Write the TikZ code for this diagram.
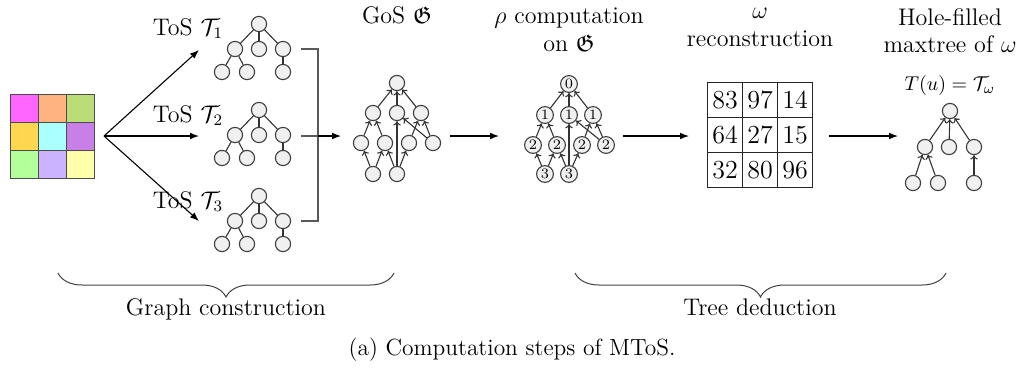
\documentclass[tikz,border=0pt]{standalone}
\usepackage{amssymb}
\usetikzlibrary{arrows.meta,decorations.pathreplacing}
\begin{document}
\begin{tikzpicture}[x=0.5pt,y=-0.5pt,
  vtx/.style={circle,draw=black!75,fill=black!6,line width=0.55pt,minimum size=7.6pt,inner sep=0pt},
  rvtx/.style={vtx,minimum size=8.4pt,font=\fontsize{7.2}{8}\selectfont},
  tedge/.style={draw=black!80,line width=0.55pt},
  gedge/.style={tedge,-{To[length=2.2pt,width=3.8pt]}},
  flow/.style={-{Latex[length=4.5pt,width=3.4pt]},line width=0.55pt},
  txt/.style={font=\fontsize{12}{14}\selectfont,anchor=base,inner sep=0pt},
  cell/.style={draw=black!70,line width=0.5pt,minimum size=14pt,inner sep=0pt},
  wcell/.style={draw=black!85,line width=0.6pt,minimum size=17.5pt,inner sep=0pt,font=\fontsize{13}{14}\selectfont},
  bracketline/.style={draw=black!65,line width=0.6pt},
  brace/.style={draw=black!75,line width=0.5pt,decorate,decoration={brace,mirror,amplitude=12pt}}
]
\useasboundingbox (0,0) rectangle (1025,376);

% input image
\definecolor{cA}{HTML}{FF66FF}\definecolor{cB}{HTML}{FFB380}\definecolor{cC}{HTML}{BBDD77}
\definecolor{cD}{HTML}{FFD650}\definecolor{cE}{HTML}{AAFFFF}\definecolor{cF}{HTML}{C880E8}
\definecolor{cG}{HTML}{B3FF99}\definecolor{cH}{HTML}{CCB3FF}\definecolor{cI}{HTML}{FFFFAA}
\node[cell,fill=cA] (p11) at (24,108) {};
\node[cell,fill=cB] (p12) at (52,108) {};
\node[cell,fill=cC] (p13) at (80,108) {};
\node[cell,fill=cD] (p21) at (24,136) {};
\node[cell,fill=cE] (p22) at (52,136) {};
\node[cell,fill=cF] (p23) at (80,136) {};
\node[cell,fill=cG] (p31) at (24,164) {};
\node[cell,fill=cH] (p32) at (52,164) {};
\node[cell,fill=cI] (p33) at (80,164) {};

% fan-out to the three trees of shapes
\coordinate (src) at (104,136);
\coordinate (e1) at (199,50);
\coordinate (e2) at (199,136);
\coordinate (e3) at (199,221);
\draw[flow] (src) -- (e1);
\draw[flow] (src) -- (e2);
\draw[flow] (src) -- (e3);

\node[txt] (l1) at (188,35) {ToS $\mathcal{T}_1$};
\node[txt] (l2) at (188,122) {ToS $\mathcal{T}_2$};
\node[txt] (l3) at (188,208) {ToS $\mathcal{T}_3$};

% trees of shapes
\foreach \i/\y in {1/24,2/110,3/196} {
  \node[vtx] (t\i r) at (259,\y) {};
  \node[vtx] (t\i a) at (235,{\y+25}) {};
  \node[vtx] (t\i b) at (259,{\y+25}) {};
  \node[vtx] (t\i c) at (283,{\y+25}) {};
  \node[vtx] (t\i d) at (222,{\y+48}) {};
  \node[vtx] (t\i e) at (247,{\y+48}) {};
  \node[vtx] (t\i f) at (283,{\y+48}) {};
  \draw[tedge] (t\i r) -- (t\i a);
  \draw[tedge] (t\i r) -- (t\i b);
  \draw[tedge] (t\i r) -- (t\i c);
  \draw[tedge] (t\i a) -- (t\i d);
  \draw[tedge] (t\i a) -- (t\i e);
  \draw[tedge] (t\i c) -- (t\i f);
}

% merging bracket
\coordinate (b1) at (301,49);
\coordinate (b2) at (301,136);
\coordinate (b3) at (301,221);
\coordinate (bk) at (318,136);
\coordinate (gin) at (341,136);
\draw[bracketline] (b1) -| (bk) |- (b3);
\draw[bracketline] (b2) -- (bk);
\draw[flow] (bk) -- (gin);

% graph of shapes
\node[txt] (gt) at (397,23) {GoS $\mathfrak{G}$};
\node[vtx] (g0)  at (397,83) {};
\node[vtx] (g1a) at (373,113) {};
\node[vtx] (g1b) at (397,113) {};
\node[vtx] (g1c) at (421,113) {};
\node[vtx] (g2a) at (361,143) {};
\node[vtx] (g2b) at (385,143) {};
\node[vtx] (g2c) at (409,143) {};
\node[vtx] (g2d) at (433,143) {};
\node[vtx] (g3a) at (373,174) {};
\node[vtx] (g3b) at (397,174) {};
\draw[gedge] (g1a) -- (g0);
\draw[gedge] (g1b) -- (g0);
\draw[gedge] (g1c) -- (g0);
\draw[gedge] (g2a) -- (g1a);
\draw[gedge] (g2b) -- (g1a);
\draw[gedge] (g2c) -- (g1c);
\draw[gedge] (g2d) -- (g1c);
\draw[gedge] (g2d) -- (g1b);
\draw[gedge] (g3a) -- (g2a);
\draw[gedge] (g3a) -- (g2b);
\draw[gedge] (g3b) -- (g2b);
\draw[gedge] (g3b) -- (g2c);
\draw[gedge] (g3b) -- (g1b);

\coordinate (gout) at (450,136);
\coordinate (rin) at (499,136);
\draw[flow] (gout) -- (rin);

% rho computation on the graph
\node[txt] (rt1) at (569,23) {$\rho$ computation};
\node[txt] (rt2) at (569,51) {on $\mathfrak{G}$};
\node[rvtx] (r0)  at (569,84) {0};
\node[rvtx] (r1a) at (545,115) {1};
\node[rvtx] (r1b) at (569,115) {1};
\node[rvtx] (r1c) at (593,115) {1};
\node[rvtx] (r2a) at (533,145) {2};
\node[rvtx] (r2b) at (557,145) {2};
\node[rvtx] (r2c) at (582,145) {2};
\node[rvtx] (r2d) at (606,145) {2};
\node[rvtx] (r3a) at (545,174) {3};
\node[rvtx] (r3b) at (569,174) {3};
\draw[gedge] (r1a) -- (r0);
\draw[gedge] (r1b) -- (r0);
\draw[gedge] (r1c) -- (r0);
\draw[gedge] (r2a) -- (r1a);
\draw[gedge] (r2b) -- (r1a);
\draw[gedge] (r2c) -- (r1c);
\draw[gedge] (r2d) -- (r1c);
\draw[gedge] (r2d) -- (r1b);
\draw[gedge] (r3a) -- (r2a);
\draw[gedge] (r3a) -- (r2b);
\draw[gedge] (r3b) -- (r2b);
\draw[gedge] (r3b) -- (r2c);
\draw[gedge] (r3b) -- (r1b);

\coordinate (rout) at (623,136);
\coordinate (win) at (689,136);
\draw[flow] (rout) -- (win);

% omega reconstruction
\node[txt] (wt1) at (760,18) {$\omega$};
\node[txt] (wt2) at (760,46) {reconstruction};
\node[wcell] (w11) at (725,100) {83};
\node[wcell] (w12) at (760,100) {97};
\node[wcell] (w13) at (795,100) {14};
\node[wcell] (w21) at (725,135) {64};
\node[wcell] (w22) at (760,135) {27};
\node[wcell] (w23) at (795,135) {15};
\node[wcell] (w31) at (725,170) {32};
\node[wcell] (w32) at (760,170) {80};
\node[wcell] (w33) at (795,170) {96};

\coordinate (wout) at (829,136);
\coordinate (hin) at (898,136);
\draw[flow] (wout) -- (hin);

% hole-filled max-tree
\node[txt] (ht1) at (950,25) {Hole-filled};
\node[txt] (ht2) at (950,52) {maxtree of $\omega$};
\node[txt,font=\fontsize{10}{12}\selectfont] (hf) at (950,90) {$T(u) = \mathcal{T}_\omega$};
\node[vtx] (h0)  at (950,111) {};
\node[vtx] (h1a) at (925,147) {};
\node[vtx] (h1b) at (949,147) {};
\node[vtx] (h1c) at (974,147) {};
\node[vtx] (h2a) at (913,183) {};
\node[vtx] (h2b) at (938,183) {};
\node[vtx] (h2c) at (974,183) {};
\draw[gedge] (h1a) -- (h0);
\draw[gedge] (h1b) -- (h0);
\draw[gedge] (h1c) -- (h0);
\draw[gedge] (h2a) -- (h1a);
\draw[gedge] (h2b) -- (h1a);
\draw[gedge] (h2c) -- (h1c);

% stage braces
\coordinate (bra) at (58,273);
\coordinate (brb) at (394,273);
\coordinate (brc) at (575,273);
\coordinate (brd) at (946,273);
\draw[brace] (bra) -- (brb);
\draw[brace] (brc) -- (brd);
\node[txt] (s1) at (226,315) {Graph construction};
\node[txt] (s2) at (760,315) {Tree deduction};

\node[txt,font=\fontsize{11.7}{14}\selectfont] (cap) at (512,355) {(a) Computation steps of MToS.};
\end{tikzpicture}
\end{document}
